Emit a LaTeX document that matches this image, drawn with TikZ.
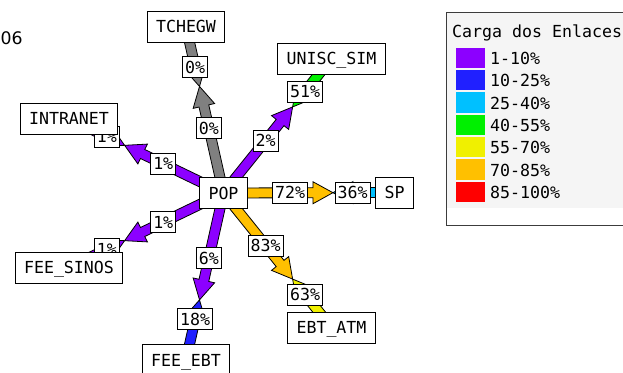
\documentclass[tikz,border=0pt]{standalone}
\usepackage{fontspec}
\newfontfamily\wmfont{DejaVu Sans Mono}
\newfontfamily\datefont{DejaVu Sans}
\usetikzlibrary{calc}
\pgfdeclarelayer{bg}
\pgfdeclarelayer{arr}
\pgfdeclarelayer{lab}
\pgfsetlayers{bg,arr,lab,main}
\definecolor{wmgray}{RGB}{128,128,128}
\definecolor{wmpurple}{RGB}{140,0,255}
\definecolor{wmblue}{RGB}{32,32,255}
\definecolor{wmcyan}{RGB}{0,192,255}
\definecolor{wmgreen}{RGB}{0,240,0}
\definecolor{wmyellow}{RGB}{240,240,0}
\definecolor{wmorange}{RGB}{255,192,0}
\definecolor{wmred}{RGB}{255,0,0}
\definecolor{legbg}{RGB}{245,245,245}
\definecolor{legborder}{RGB}{60,60,60}
\tikzset{
  wmtext/.style={font=\wmfont\fontsize{16.6}{18}\selectfont, text height=12pt, text depth=0pt},
  nodebox/.style={wmtext, draw=black, fill=white, line width=1pt, minimum height=31pt, inner xsep=9pt, inner ysep=0pt},
  pct/.style={wmtext, draw=black, fill=white, line width=0.8pt, minimum height=21pt, inner xsep=2.5pt, inner ysep=0pt},
  arrowline/.style={draw=black, line width=0.8pt, line join=miter},
  legtext/.style={wmtext, anchor=west, inner sep=0pt},
}
% half arrow from node #1 to the meeting point (mm), colour #2
\newcommand\wmhalf[2]{%
  \coordinate (hh) at ($(mm)!20pt!(#1.center)$);
  \draw[arrowline, fill=#2]
    ($(#1.center)!5pt!90:(mm)$) -- ($(hh)!5pt!90:(mm)$) -- ($(hh)!11pt!90:(mm)$)
    -- (mm)
    -- ($(hh)!11pt!-90:(mm)$) -- ($(hh)!5pt!-90:(mm)$) -- ($(#1.center)!5pt!-90:(mm)$) -- cycle;
}
% link: #1 near node (POP), #2 far node, #3 near colour, #4 far colour, #5 near label, #6 far label
\newcommand\wmlink[6]{%
  \coordinate (mm) at ($(#1.center)!0.64!(#2.center)$);
  \begin{pgfonlayer}{arr}
    \wmhalf{#1}{#3}
    \wmhalf{#2}{#4}
  \end{pgfonlayer}
  \begin{pgfonlayer}{lab}
    \node[pct] (#2-n) at ($(#1.center)!0.39!(#2.center)$) {#5};
    \node[pct] (#2-f) at ($(#1.center)!0.755!(#2.center)$) {#6};
  \end{pgfonlayer}
}
\begin{document}
\begin{tikzpicture}[x=1pt,y=-1pt]
\useasboundingbox (0,0) rectangle (623,372);
\begin{pgfonlayer}{bg}
\fill[white] (0,0) rectangle (623,372);
\end{pgfonlayer}

% date fragment
\node[font=\datefont\fontsize{17.3}{20}\selectfont, anchor=base west, inner sep=0pt] (date) at (0.5,44) {06};

% nodes
\node[nodebox] (pop) at (223.5,193) {POP};
\node[nodebox] (tchegw) at (186,26.5) {TCHEGW};
\node[nodebox] (unisc) at (331.5,58.5) {UNISC\_SIM};
\node[nodebox] (intranet) at (69,118.5) {INTRANET};
\node[nodebox] (sp) at (394.5,192.5) {SP};
\node[nodebox] (sinos) at (69,267.5) {FEE\_SINOS};
\node[nodebox] (ebt) at (186,360) {FEE\_EBT};
\node[nodebox] (atm) at (331.5,327.5) {EBT\_ATM};

% links
\wmlink{pop}{tchegw}{wmgray}{wmgray}{0\%}{0\%}
\wmlink{pop}{unisc}{wmpurple}{wmgreen}{2\%}{51\%}
\wmlink{pop}{intranet}{wmpurple}{wmpurple}{1\%}{1\%}
\wmlink{pop}{sp}{wmorange}{wmcyan}{72\%}{36\%}
\wmlink{pop}{sinos}{wmpurple}{wmpurple}{1\%}{1\%}
\wmlink{pop}{ebt}{wmpurple}{wmblue}{6\%}{18\%}
\wmlink{pop}{atm}{wmorange}{wmyellow}{83\%}{63\%}

% legend
\draw[legborder, line width=1pt, fill=white] (446,12) rectangle (640,225);
\fill[legbg] (446.5,12.5) rectangle (640,208);
\node[wmtext, anchor=base west, inner sep=0pt] (legtitle) at (452,37) {Carga dos Enlaces};
\foreach \c/\t [count=\i from 0] in {wmpurple/1-10\%, wmblue/10-25\%, wmcyan/25-40\%, wmgreen/40-55\%, wmyellow/55-70\%, wmorange/70-85\%, wmred/85-100\%}{
  \fill[\c] (456,{47.7+\i*22.33}) rectangle (485,{68+\i*22.33});
  \node[legtext] (leg\i) at (490,{58.5+\i*22.33}) {\t};
}
\end{tikzpicture}
\end{document}
